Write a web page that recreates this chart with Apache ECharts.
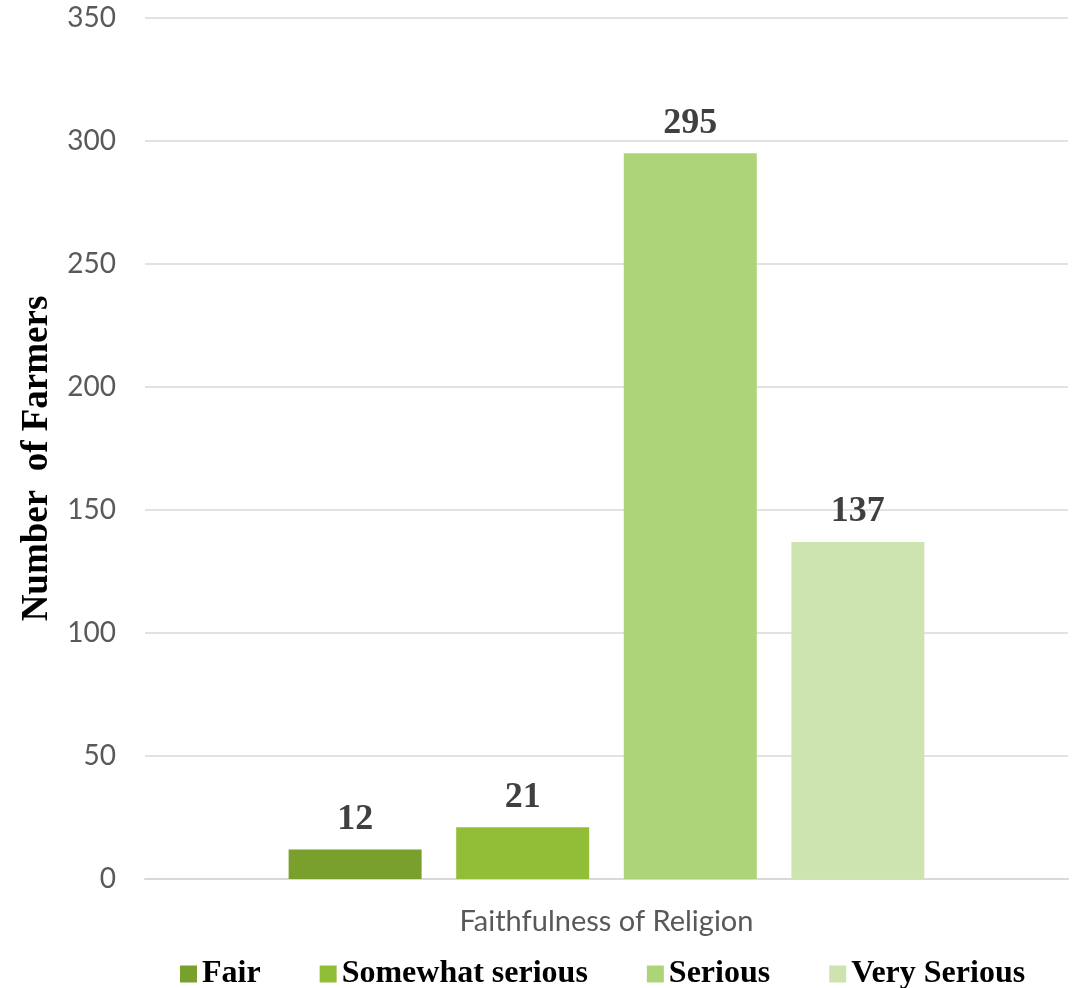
<!DOCTYPE html>
<html>
<head>
<meta charset="utf-8">
<script src="https://cdn.jsdelivr.net/npm/echarts@6/dist/echarts.min.js"></script>
<style>
  html, body { margin: 0; padding: 0; background: #fff; }
  #chart { width: 1078px; height: 988px; }
</style>
</head>
<body>
<div id="chart"></div>
<script>
// single category, one bar per answer
const categories = ['Faithfulness of Religion']
const seriesNames = ['Fair', 'Somewhat serious', 'Serious', 'Very Serious']
const seriesValues = [[12], [21], [295], [137]]
const yTicks = { min: 0, max: 350, interval: 50 }

const COLORS = ['#79a02c', '#92be37', '#aed47a', '#cde4b1']
const SERIF = '"Liberation Serif", "Times New Roman", serif'
const SANS = 'Lato, "Open Sans", sans-serif'

const chart = echarts.init(document.getElementById('chart'))

chart.setOption({
  animation: false,
  grid: { left: 145, right: 10, top: 18, bottom: 109 },
  legend: {
    left: 175,
    top: 953,
    itemWidth: 17,
    itemHeight: 17,
    itemGap: 59,
    icon: 'rect',
    textStyle: { fontFamily: SERIF, fontWeight: 'bold', fontSize: 32, color: '#000' },
    data: seriesNames,
  },
  xAxis: {
    type: 'category',
    data: categories,
    name: categories[0],
    nameLocation: 'middle',
    nameGap: 28,
    nameTextStyle: { fontFamily: SANS, fontSize: 29, color: '#595959' },
    axisLabel: { show: false },
    axisTick: { show: false },
    axisLine: { lineStyle: { color: '#d9d9d9', width: 2 } },
  },
  yAxis: {
    type: 'value',
    min: yTicks.min,
    max: yTicks.max,
    interval: yTicks.interval,
    name: 'Number  of Farmers',
    nameLocation: 'middle',
    nameGap: 88,
    nameTextStyle: {
      fontFamily: SERIF,
      fontWeight: 'bold',
      fontSize: 37,
      color: '#000',
      padding: [0, 20, 0, 0],
    },
    axisLabel: { fontFamily: SANS, fontSize: 28, color: '#595959', margin: 29 },
    axisLine: { show: false },
    axisTick: { show: false },
    splitLine: { lineStyle: { color: '#d9d9d9', width: 1.5 } },
  },
  series: seriesNames.map((name, i) => ({
    name,
    type: 'bar',
    data: seriesValues[i],
    barWidth: 133,
    barGap: '26%',
    itemStyle: { color: COLORS[i] },
    label: {
      show: true,
      position: 'top',
      distance: 12,
      fontFamily: SERIF,
      fontWeight: 'bold',
      fontSize: 36,
      color: '#404040',
    },
  })),
})

window.addEventListener('resize', () => chart.resize())
</script>
</body>
</html>
